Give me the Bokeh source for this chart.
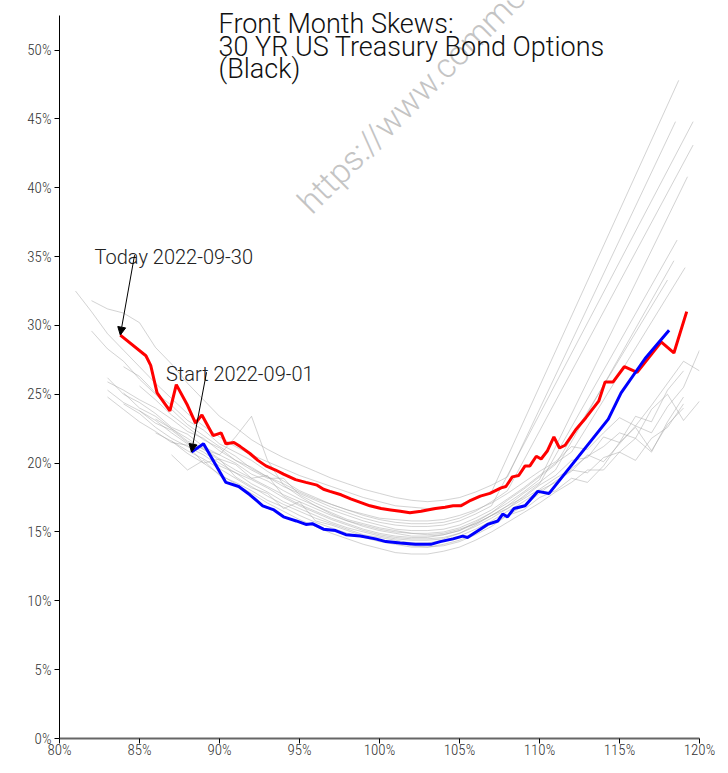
from bokeh.plotting import figure
from bokeh.models import Range1d, FixedTicker, PrintfTickFormatter, Label, Arrow, NormalHead
from bokeh.embed import file_html
from bokeh.resources import INLINE

# ---------------- data ----------------
x_ticks = [80, 85, 90, 95, 100, 105, 110, 115, 120]
y_ticks = [0, 5, 10, 15, 20, 25, 30, 35, 40, 45, 50]
y_axis_top = 52.5

today_label = "Today 2022-09-30"
start_label = "Start 2022-09-01"

today_strike = [83.8, 85.4, 85.7, 86.1, 86.9, 87.3, 88.0, 88.5, 88.9, 89.6, 90.1, 90.4, 90.9, 91.3,
                91.9, 92.4, 92.9, 93.5, 94.0, 94.75, 95.4, 96.1, 96.5, 96.9, 97.6, 98.2, 98.8, 99.4,
                100.1, 100.7, 101.3, 101.9, 102.6, 103.0, 103.5, 104.1, 104.6, 105.1, 105.7, 106.3,
                106.9, 107.6, 107.9, 108.3, 108.7, 109.1, 109.4, 109.8, 110.1, 110.5, 110.9, 111.25,
                111.6, 112.25, 112.9, 113.7, 114.1, 114.6, 115.3, 116.1, 117.6, 118.4, 119.2]
today_vol = [29.3, 27.8, 27.1, 25.1, 23.8, 25.7, 24.2, 22.9, 23.5, 22.0, 22.2, 21.4, 21.5, 21.2,
             20.7, 20.2, 19.8, 19.5, 19.2, 18.8, 18.6, 18.4, 18.1, 17.95, 17.7, 17.4, 17.15, 16.9,
             16.7, 16.6, 16.5, 16.4, 16.5, 16.6, 16.7, 16.8, 16.9, 16.9, 17.3, 17.6,
             17.8, 18.2, 18.3, 19.0, 19.1, 19.8, 19.8, 20.5, 20.3, 20.9, 21.9, 21.1,
             21.3, 22.4, 23.3, 24.5, 25.9, 25.9, 27.0, 26.6, 28.8, 28.0, 31.0]

start_strike = [88.25, 89.0, 90.4, 91.2, 91.9, 92.7, 93.4, 94.0, 94.8, 95.4, 95.8, 96.5, 97.25,
                97.9, 98.8, 99.75, 100.4, 101.3, 102.25, 103.2, 103.8, 104.6, 105.2, 105.5, 106.3,
                106.75, 107.4, 107.7, 108.0, 108.4, 109.1, 109.9, 110.6, 114.3, 115.1, 116.6, 118.1]
start_vol = [20.8, 21.4, 18.6, 18.3, 17.7, 16.9, 16.6, 16.1, 15.8, 15.55, 15.6, 15.2, 15.1,
             14.8, 14.7, 14.5, 14.3, 14.2, 14.1, 14.1, 14.3, 14.5, 14.7, 14.6, 15.2,
             15.55, 15.8, 16.3, 16.1, 16.7, 16.9, 17.95, 17.8, 23.2, 25.1, 27.6, 29.65]

# intermediate days, strikes 81..120 (None = no quote), plus an optional far-OTM quote
hist_strike = list(range(81, 121))
N = None
hist_vols = [
    [32.5, 31.0, 29.4, 28.2, 27.0, 25.8, 24.7, 23.6, 22.7, 21.9, 21.2, 20.6, 20.1, 19.6, 19.1, 18.7, 18.3, 17.9, 17.5, 17.2,
     16.9, 16.8, 16.7, 16.8, 17.0, 17.4, 17.9, N, N, N, N, N, N, N, N, N, N, N, N, N],
    [N, 31.8, 31.2, 30.9, 30.2, 28.4, 27.2, 25.8, 24.6, 23.4, 22.6, 21.7, 21.0, 20.4, 19.9, 19.4, 18.9, 18.5, 18.1, 17.8,
     17.5, 17.3, 17.2, 17.3, 17.5, 17.9, 18.4, 19.0, N, N, N, N, N, N, N, N, N, N, N, N],
    [N, 29.6, 28.3, 27.4, 26.1, 25.0, 23.9, 22.8, 22.0, 21.2, 20.5, 19.6, 19.0, 18.3, 17.8, 17.3, 16.8, 16.4, 16.0, 15.7,
     15.5, 15.4, 15.4, 15.5, 15.8, 16.3, 16.9, N, N, N, N, N, N, N, N, N, N, N, N, N],
    [N, N, 25.3, 24.4, 23.8, 22.9, 22.4, 21.5, 21.0, 20.2, 19.5, 18.9, 18.3, 17.7, 17.2, 16.7, 16.2, 15.8, 15.5, 15.2,
     15.0, 14.9, 14.8, 14.9, 15.2, 15.6, 16.2, 16.9, 17.5, 18.4, 19.1, 20.2, 20.4, 21.9, 21.5, 23.4, 23.0, 25.3, 26.7, N],
    [N, N, 26.2, 25.0, 24.4, 23.6, 22.6, 22.1, 21.2, 20.6, 20.0, 19.2, 18.7, 18.0, 17.4, 16.9, 16.4, 15.9, 15.6, 15.3,
     15.1, 14.9, 14.9, 15.0, 15.3, 15.8, 16.4, 17.1, 17.9, 18.8, N, N, N, N, N, N, N, N, N, N],
    [N, N, N, 25.1, 24.0, 23.4, 22.5, 21.6, 21.1, 20.3, 19.9, 18.9, 19.1, 17.6, 17.0, 16.5, 16.0, 15.6, 15.2, 14.9,
     14.7, 14.6, 14.6, 14.8, 15.1, 15.6, 16.2, 16.7, 17.4, 18.1, 18.9, 19.6, 20.5, 21.2, 22.2, 21.8, 23.9, 25.0, 23.1, 24.5],
    [N, N, 24.8, 23.9, 23.0, 22.3, 21.5, 21.3, 20.0, 20.3, 19.0, 18.3, 17.6, 17.0, 16.5, 16.0, 15.6, 15.2, 14.8, 14.6,
     14.4, 14.2, 14.2, 14.4, 14.7, 15.2, 15.8, 16.5, 17.2, 18.0, 18.6, 19.5, 19.3, 20.4, 20.8, 20.2, 21.8, 22.6, 24.3, N],
    [N, N, N, 24.3, 23.6, 22.6, 21.8, 21.2, 20.6, 19.8, 19.3, 18.5, 17.9, 17.2, 16.7, 16.2, 15.7, 15.3, 15.0, 14.7,
     14.5, 14.4, 14.4, 14.5, 14.9, 15.4, 16.0, 16.7, 17.6, 18.5, N, N, N, N, N, N, N, N, N, N],
    [N, N, N, N, 23.8, 23.1, 22.2, 21.4, 20.8, 20.0, 19.3, 18.8, 18.2, 17.5, 16.9, 16.4, 15.9, 15.5, 15.1, 14.8,
     14.6, 14.5, 14.5, 14.6, 14.9, 15.5, 16.2, 16.9, 17.8, 18.6, 19.5, N, N, N, N, N, N, N, N, N],
    [N, N, N, N, N, 22.2, 21.6, 20.9, 20.3, 19.6, 18.9, 18.2, 17.8, 16.7, 17.2, 15.8, 15.5, 15.1, 14.7, 14.4,
     14.2, 14.0, 13.9, 14.0, 14.3, 14.8, 15.4, 16.2, 16.9, 17.8, 18.7, 19.4, 20.6, 20.1, 21.4, 22.7, 22.2, 24.1, 25.5, 28.2],
    [N, N, N, N, N, N, 21.6, 20.7, 20.0, 19.2, 18.5, 17.8, 17.1, 16.5, 15.9, 15.4, 14.9, 14.5, 14.1, 13.8,
     13.5, 13.4, 13.4, 13.6, 13.9, 14.4, 15.0, 15.7, 16.4, 17.1, 17.9, 18.6, 19.5, 19.5, 20.8, 21.8, 20.8, 23.0, 24.8, N],
    [N, N, N, 27.0, 26.3, 25.1, 24.2, 23.1, 22.4, 21.4, 20.8, 20.2, 19.4, 18.7, 18.0, 17.5, 17.0, 16.6, 16.2, 15.9,
     15.7, 15.6, 15.6, 15.7, 16.0, 16.5, 17.2, 18.0, N, N, N, N, N, N, N, N, N, N, N, N],
    [N, N, N, N, 25.6, 24.6, 23.5, 22.6, 21.7, 21.1, 20.2, 19.5, 18.9, 18.9, 17.7, 17.1, 16.6, 16.2, 15.8, 15.5,
     15.2, 15.1, 15.1, 15.2, 15.5, 16.0, 16.6, 17.4, 18.2, 19.1, 20.0, 20.8, N, N, N, N, N, N, N, N],
    [N, N, N, N, N, 23.2, 22.5, 21.8, 21.0, 20.6, 21.9, 23.4, 20.2, 18.4, 17.6, 16.9, 16.3, 15.8, 15.4, 15.1,
     14.9, 14.7, 14.7, 14.8, 15.1, 15.7, 16.4, 17.3, 18.1, 19.0, 19.9, N, N, N, N, N, N, N, N, N],
    [N, N, 25.9, 25.3, 24.6, 24.0, 23.2, 22.3, 21.8, 20.9, 20.2, 19.7, 19.0, 18.5, 17.9, 17.4, 17.0, 16.6, 16.3, 16.0,
     15.9, 15.8, 15.8, 15.9, 16.2, 16.6, 17.1, 17.8, 18.6, 19.4, 20.1, 21.2, 21.0, 22.2, 23.3, 22.7, 24.2, 25.8, 27.4, 26.7],
    [N, N, N, N, N, N, 20.6, 19.5, 20.2, 19.1, 18.6, 18.0, 17.3, 16.8, 16.2, 15.7, 15.3, 14.9, 14.6, 14.3,
     14.1, 13.9, 13.9, 14.1, 14.4, 14.9, 15.6, 16.2, 16.6, 17.5, 18.0, 18.9, 18.6, 19.8, 21.5, 22.6, 20.9, 22.8, 24.0, N],
]
hist_tail_strike = [118.7, 118.5, 119.6, N, 119.25, N, N, 118.6, 118.4, N, N, 119.6, 119.1, 118.0, N, N]
hist_tail_vol = [47.8, 44.8, 44.8, N, 40.8, N, N, 36.2, 34.7, N, N, 43.1, 34.2, 33.3, N, N]

# ---------------- figure ----------------
p = figure(width=720, height=765, output_backend="svg", toolbar_location=None,
           x_range=Range1d(80, 120), y_range=Range1d(0, 53.6),
           min_border_left=59, min_border_right=21, min_border_top=0, min_border_bottom=27)
p.outline_line_color = None
p.xgrid.visible = False
p.ygrid.visible = False
p.background_fill_color = "white"
p.border_fill_color = "white"

LIGHT = "Roboto Light, Roboto"

# watermark
p.add_layout(Label(x=95.25, y=38.6, text="https://www.commoditiesdata.com", angle=45, angle_units="deg",
                   text_font=LIGHT, text_font_size="34px", text_color="#c4c4c4",
                   text_baseline="alphabetic", text_align="left", level="underlay"))

for vols, tk, tv in zip(hist_vols, hist_tail_strike, hist_tail_vol):
    xs = [k for k, v in zip(hist_strike, vols) if v is not None]
    ys = [v for v in vols if v is not None]
    if tk is not None:
        xs.append(tk)
        ys.append(tv)
    p.line(xs, ys, line_color="#a8a8a8", line_alpha=0.5, line_width=1)

p.line(today_strike, today_vol, line_color="red", line_width=3)
p.line(start_strike, start_vol, line_color="blue", line_width=3)

# axes
for ax in (p.xaxis[0], p.yaxis[0]):
    ax.minor_tick_line_color = None
    ax.major_tick_in = 0
    ax.major_tick_out = 5
    ax.major_label_text_font = "Roboto Condensed Light, Roboto Condensed, Roboto Light"
    ax.major_label_text_font_size = "15px"
    ax.major_label_text_color = "#333333"
    ax.major_tick_line_color = "black"
p.xaxis.ticker = FixedTicker(ticks=x_ticks)
p.yaxis.ticker = FixedTicker(ticks=y_ticks)
p.yaxis.bounds = (0, y_axis_top)
p.xaxis.formatter = PrintfTickFormatter(format="%d%%")
p.yaxis.formatter = PrintfTickFormatter(format="%d%%")
p.xaxis.axis_line_color = "#666666"
p.xaxis.axis_line_width = 2
p.yaxis.axis_line_color = "black"
p.xaxis.major_label_standoff = -3
p.yaxis.major_label_standoff = 3

# title
for txt, yy in (("Front Month Skews:", 51.88), ("30 YR US Treasury Bond Options", 50.22), ("(Black)", 48.6)):
    p.add_layout(Label(x=89.94, y=yy, text=txt, text_font=LIGHT, text_font_size="27px",
                       text_color="#111111", text_baseline="alphabetic", text_align="left"))

# annotations
p.add_layout(Label(x=82.19, y=34.95, text=today_label, text_font=LIGHT, text_font_size="20px",
                   text_color="#222222", text_baseline="alphabetic"))
p.add_layout(Label(x=86.65, y=26.47, text=start_label, text_font=LIGHT, text_font_size="20px",
                   text_color="#222222", text_baseline="alphabetic"))
p.add_layout(Arrow(end=NormalHead(size=8, fill_color="black", line_color="black", line_width=1),
                   x_start=84.69, y_start=35.1, x_end=today_strike[0], y_end=today_vol[0],
                   line_color="black", line_width=1))
p.add_layout(Arrow(end=NormalHead(size=8, fill_color="black", line_color="black", line_width=1),
                   x_start=89.19, y_start=26.6, x_end=start_strike[0], y_end=start_vol[0],
                   line_color="black", line_width=1))

open("out.html", "w").write(file_html(p, INLINE))
